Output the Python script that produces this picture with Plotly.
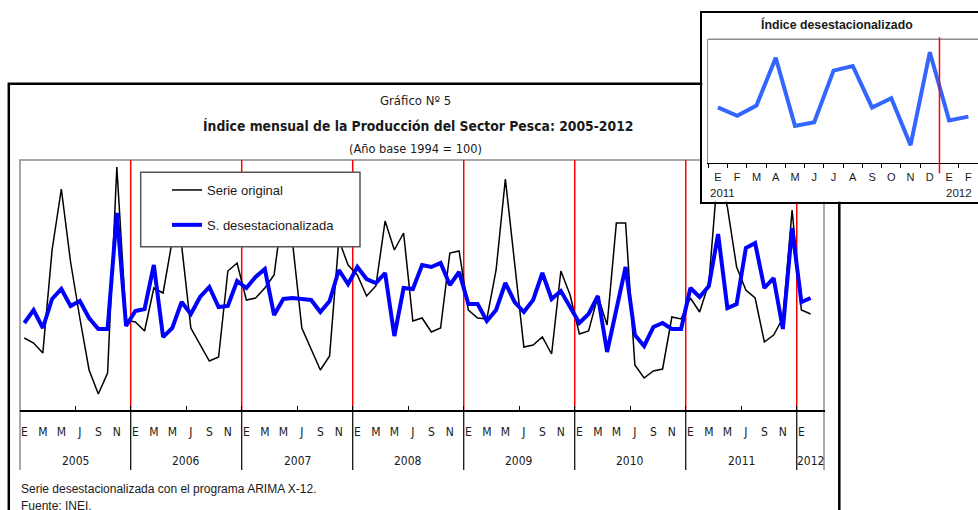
import plotly.graph_objects as go

W, H = 978, 510


def fx(px):
    return px / W


def fy(py):
    return 1 - py / H


# datos
# -----
meses = ["E", "F", "M", "A", "M", "J", "J", "A", "S", "O", "N", "D"]
anios = ["2005", "2006", "2007", "2008", "2009", "2010", "2011", "2012"]

# Enero 2005 - Febrero 2012 (indice, escala del grafico)
serie_original = [
    72, 67, 57, 160, 221, 148, 92, 40, 16, 37, 243, 90,
    88, 79, 122, 117, 170, 165, 82, 65, 49, 53, 139, 147,
    110, 112, 122, 135, 205, 167, 82, 61, 40, 54, 170, 145,
    135, 114, 124, 189, 160, 177, 89, 92, 78, 82, 157, 159,
    100, 92, 91, 140, 231, 147, 63, 65, 73, 56, 139, 115,
    76, 79, 114, 85, 187, 187, 45, 32, 39, 41, 93, 91,
    112, 98, 127, 242, 203, 143, 120, 112, 68, 75, 92, 200,
    100, 96,
]
serie_desest = [
    87, 100, 82, 111, 121, 104, 109, 92, 81, 81, 197, 84,
    99, 101, 145, 73, 82, 108, 96, 113, 123, 103, 104, 129,
    122, 133, 141, 95, 111, 112, 111, 110, 98, 109, 140, 126,
    143, 131, 127, 137, 74, 122, 121, 145, 143, 147, 125, 138,
    106, 106, 89, 100, 127, 108, 98, 110, 137, 111, 119, 103,
    87, 96, 114, 58, 102, 143, 75, 64, 83, 87, 81, 81,
    122, 113, 124, 176, 102, 106, 162, 167, 122, 132, 81, 182,
    108, 112,
]
meses_inset = ["E", "F", "M", "A", "M", "J", "J", "A", "S", "O", "N", "D", "E", "F"]
anios_inset = ["2011", "2012"]

NARROW = "Liberation Sans Narrow, DejaVu Sans Condensed, Arial Narrow, sans-serif"
ARIAL = "Liberation Sans, Arial, sans-serif"

n = len(serie_original)
xs = list(range(n))

# etiquetas de meses cada dos meses (E M M J S N)
tick_pos = [i for i in range(n) if i % 2 == 0]
tick_txt = [meses[i % 12] for i in tick_pos]
limites = [12 * k + 11.5 for k in range(7)]
minor_pos = [6 * k + 5.5 for k in range(14)]

fig = go.Figure()

fig.add_trace(go.Scatter(
    x=xs, y=serie_original, mode="lines", name="Serie original",
    line=dict(color="black", width=1.5), legendgroup="a",
))
fig.add_trace(go.Scatter(
    x=xs, y=serie_desest, mode="lines", name="S. desestacionalizada",
    line=dict(color="#0000ff", width=4), legendgroup="b",
))
# caja que tapa el grafico principal
fig.add_trace(go.Scatter(x=[], y=[], xaxis="x2", yaxis="y2", showlegend=False))
# recuadro
inset_vals = serie_desest[72:]
fig.add_trace(go.Scatter(
    x=list(range(len(inset_vals))), y=inset_vals, mode="lines",
    line=dict(color="#3366ff", width=4), xaxis="x3", yaxis="y3", showlegend=False,
))

shapes = []
# marco principal
shapes.append(dict(type="rect", xref="paper", yref="paper", layer="below",
                   x0=fx(8.8), x1=fx(839.3), y0=fy(530), y1=fy(83.8),
                   line=dict(color="black", width=2.5)))
# borde gris del area de trazado
shapes.append(dict(type="path", xref="paper", yref="paper", layer="below",
                   path="M %f,%f L %f,%f L %f,%f L %f,%f" % (
                       fx(20), fy(470), fx(20), fy(160), fx(824), fy(160), fx(824), fy(470)),
                   line=dict(color="#8c8c8c", width=1.5)))
for b in limites:
    # separadores de anios
    shapes.append(dict(type="line", xref="x", yref="paper", layer="below",
                       x0=b, x1=b, y0=fy(470), y1=fy(410),
                       line=dict(color="black", width=1.2)))
    # lineas rojas
    shapes.append(dict(type="line", xref="x", yref="y", layer="below",
                       x0=b, x1=b, y0=0, y1=250,
                       line=dict(color="red", width=1.5)))
# caja de leyenda
shapes.append(dict(type="rect", xref="paper", yref="paper", layer="above",
                   x0=fx(140.7), x1=fx(360), y0=fy(246.7), y1=fy(172.3),
                   fillcolor="white", line=dict(color="#555555", width=1.5)))
# recuadro: borde superior gris y linea roja
shapes.append(dict(type="line", xref="x3 domain", yref="y3 domain", layer="above",
                   x0=0, x1=1, y0=1, y1=1, line=dict(color="#8c8c8c", width=1.5)))
shapes.append(dict(type="line", xref="x3", yref="paper", layer="above",
                   x0=11.5, x1=11.5, y0=fy(173.3), y1=fy(37.3),
                   line=dict(color="red", width=1.5)))

annotations = []


def txt(text, x, y, size, family=NARROW, bold=False, xanchor="center", xref="paper"):
    if bold:
        text = "<b>%s</b>" % text
    annotations.append(dict(text=text, x=x, y=y, xref=xref, yref="paper",
                            xanchor=xanchor, yanchor="middle", showarrow=False,
                            font=dict(family=family, size=size, color="#1a1a1a")))


txt("Gráfico Nº 5", fx(415), fy(101), 13)
txt("Índice mensual de la Producción del Sector Pesca: 2005-2012", fx(418), fy(126), 13.8, bold=True)
txt("(Año base 1994 = 100)", fx(415.5), fy(148.5), 12.7)
for k, a in enumerate(anios[:-1]):
    txt(a, 12 * k + 5.5, fy(460.7), 12, xref="x")
txt(anios[-1], 85, fy(460.7), 12, xref="x")
txt("Serie desestacionalizada con el programa ARIMA X-12.", fx(19), fy(488.5), 12,
    family=ARIAL, xanchor="left")
txt("Fuente: INEI.", fx(19), fy(505.5), 12, family=ARIAL, xanchor="left")
txt("Índice desestacionalizado", fx(837), fy(24.5), 12.3, family=ARIAL, bold=True)
txt(anios_inset[0], 0.25, fy(192.7), 11.5, family=ARIAL, xref="x3")
txt(anios_inset[1], 12.5, fy(192.7), 11.5, family=ARIAL, xref="x3")

fig.update_layout(
    width=W, height=H,
    margin=dict(l=0, r=0, t=0, b=0),
    paper_bgcolor="white", plot_bgcolor="white",
    showlegend=True,
    legend=dict(x=fx(167), y=fy(175), xanchor="left", yanchor="top",
                bgcolor="rgba(0,0,0,0)", borderwidth=0,
                traceorder="grouped", tracegroupgap=15,
                font=dict(family=ARIAL, size=13, color="#1a1a1a")),
    xaxis=dict(domain=[fx(19.7), fx(824.5)], range=[-0.5, 86.5], anchor="y",
               showgrid=False, zeroline=False, showline=True, linecolor="black", linewidth=1.5,
               tickmode="array", tickvals=tick_pos, ticktext=tick_txt, ticks="",
               ticklabelstandoff=10,
               tickfont=dict(family=NARROW, size=12, color="#1a1a1a"),
               minor=dict(tickmode="array", tickvals=minor_pos, ticks="inside",
                          ticklen=4, tickwidth=1, tickcolor="black")),
    yaxis=dict(domain=[fy(410), fy(160)], range=[0, 250], anchor="x", visible=False),
    xaxis2=dict(domain=[fx(702.3), 1.0], range=[0, 1], anchor="y2",
                showgrid=False, zeroline=False, showticklabels=False, ticks="",
                showline=True, mirror=True, linecolor="black", linewidth=2.5),
    yaxis2=dict(domain=[fy(201.7), fy(13.3)], range=[0, 1], anchor="x2",
                showgrid=False, zeroline=False, showticklabels=False, ticks="",
                showline=True, linecolor="black", linewidth=2.5),
    xaxis3=dict(domain=[fx(708.3), 1.0], range=[-0.5, 13.5], anchor="y3",
                showgrid=False, zeroline=False, showline=True, linecolor="black", linewidth=1.5,
                tickmode="array", tickvals=list(range(len(meses_inset))), ticktext=meses_inset,
                ticks="", ticklabelstandoff=4,
                tickfont=dict(family=ARIAL, size=11, color="#1a1a1a"),
                minor=dict(tickmode="array", tickvals=[i - 0.5 for i in range(15)],
                           ticks="outside", ticklen=4, tickwidth=1, tickcolor="black")),
    yaxis3=dict(domain=[fy(162.7), fy(39.3)], range=[62, 196], anchor="x3",
                showgrid=False, zeroline=False, showticklabels=False, ticks="",
                showline=True, linecolor="#8c8c8c", linewidth=1.5),
    shapes=shapes,
    annotations=annotations,
)

# the page keeps the browser's 8px body margin unless it is removed
fig.write_html("out.html", config={"displayModeBar": False, "staticPlot": True},
               post_script="document.body.style.margin = '0px';")
